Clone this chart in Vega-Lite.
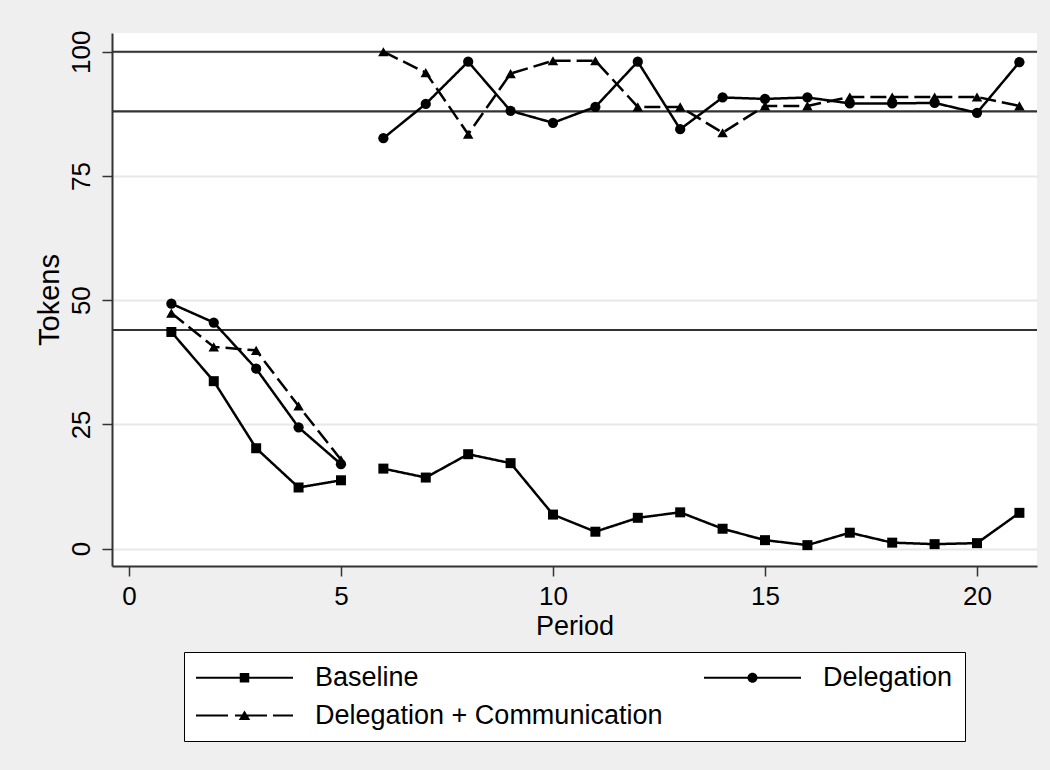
{
  "$schema": "https://vega.github.io/schema/vega-lite/v6.json",
  "width": 925,
  "height": 533,
  "autosize": {"type": "none"},
  "padding": {"left": 112, "top": 33, "right": 13, "bottom": 204},
  "background": "#efefef",
  "config": {
    "view": {"fill": "white", "stroke": null},
    "font": "Liberation Sans",
    "axis": {
      "domainColor": "#333333",
      "domainWidth": 2,
      "tickColor": "#333333",
      "tickWidth": 1.5,
      "tickSize": 10,
      "labelFont": "Liberation Sans",
      "labelFontSize": 26,
      "labelColor": "black",
      "titleFont": "Liberation Sans",
      "titleFontSize": 27,
      "titleFontWeight": "normal",
      "titleColor": "black"
    }
  },
  "datasets": {
    "series": [
      {"series": "Baseline", "phase": 1, "period": 1, "tokens": 43.6},
      {"series": "Baseline", "phase": 1, "period": 2, "tokens": 33.7},
      {"series": "Baseline", "phase": 1, "period": 3, "tokens": 20.2},
      {"series": "Baseline", "phase": 1, "period": 4, "tokens": 12.3},
      {"series": "Baseline", "phase": 1, "period": 5, "tokens": 13.75},
      {"series": "Baseline", "phase": 2, "period": 6, "tokens": 16.1},
      {"series": "Baseline", "phase": 2, "period": 7, "tokens": 14.3},
      {"series": "Baseline", "phase": 2, "period": 8, "tokens": 19.0},
      {"series": "Baseline", "phase": 2, "period": 9, "tokens": 17.2},
      {"series": "Baseline", "phase": 2, "period": 10, "tokens": 6.85},
      {"series": "Baseline", "phase": 2, "period": 11, "tokens": 3.4},
      {"series": "Baseline", "phase": 2, "period": 12, "tokens": 6.2},
      {"series": "Baseline", "phase": 2, "period": 13, "tokens": 7.3},
      {"series": "Baseline", "phase": 2, "period": 14, "tokens": 4.0},
      {"series": "Baseline", "phase": 2, "period": 15, "tokens": 1.7},
      {"series": "Baseline", "phase": 2, "period": 16, "tokens": 0.7},
      {"series": "Baseline", "phase": 2, "period": 17, "tokens": 3.2},
      {"series": "Baseline", "phase": 2, "period": 18, "tokens": 1.2},
      {"series": "Baseline", "phase": 2, "period": 19, "tokens": 0.9},
      {"series": "Baseline", "phase": 2, "period": 20, "tokens": 1.1},
      {"series": "Baseline", "phase": 2, "period": 21, "tokens": 7.2},
      {"series": "Delegation", "phase": 1, "period": 1, "tokens": 49.3},
      {"series": "Delegation", "phase": 1, "period": 2, "tokens": 45.5},
      {"series": "Delegation", "phase": 1, "period": 3, "tokens": 36.2},
      {"series": "Delegation", "phase": 1, "period": 4, "tokens": 24.4},
      {"series": "Delegation", "phase": 1, "period": 5, "tokens": 17.0},
      {"series": "Delegation", "phase": 2, "period": 6, "tokens": 82.6},
      {"series": "Delegation", "phase": 2, "period": 7, "tokens": 89.5},
      {"series": "Delegation", "phase": 2, "period": 8, "tokens": 98.0},
      {"series": "Delegation", "phase": 2, "period": 9, "tokens": 88.1},
      {"series": "Delegation", "phase": 2, "period": 10, "tokens": 85.7},
      {"series": "Delegation", "phase": 2, "period": 11, "tokens": 88.9},
      {"series": "Delegation", "phase": 2, "period": 12, "tokens": 98.0},
      {"series": "Delegation", "phase": 2, "period": 13, "tokens": 84.4},
      {"series": "Delegation", "phase": 2, "period": 14, "tokens": 90.8},
      {"series": "Delegation", "phase": 2, "period": 15, "tokens": 90.5},
      {"series": "Delegation", "phase": 2, "period": 16, "tokens": 90.8},
      {"series": "Delegation", "phase": 2, "period": 17, "tokens": 89.6},
      {"series": "Delegation", "phase": 2, "period": 18, "tokens": 89.6},
      {"series": "Delegation", "phase": 2, "period": 19, "tokens": 89.7},
      {"series": "Delegation", "phase": 2, "period": 20, "tokens": 87.7},
      {"series": "Delegation", "phase": 2, "period": 21, "tokens": 97.9},
      {"series": "Delegation + Communication", "phase": 1, "period": 1, "tokens": 47.4},
      {"series": "Delegation + Communication", "phase": 1, "period": 2, "tokens": 40.6},
      {"series": "Delegation + Communication", "phase": 1, "period": 3, "tokens": 39.9},
      {"series": "Delegation + Communication", "phase": 1, "period": 4, "tokens": 28.7},
      {"series": "Delegation + Communication", "phase": 1, "period": 5, "tokens": 17.9},
      {"series": "Delegation + Communication", "phase": 2, "period": 6, "tokens": 100.0},
      {"series": "Delegation + Communication", "phase": 2, "period": 7, "tokens": 95.8},
      {"series": "Delegation + Communication", "phase": 2, "period": 8, "tokens": 83.4},
      {"series": "Delegation + Communication", "phase": 2, "period": 9, "tokens": 95.6},
      {"series": "Delegation + Communication", "phase": 2, "period": 10, "tokens": 98.2},
      {"series": "Delegation + Communication", "phase": 2, "period": 11, "tokens": 98.2},
      {"series": "Delegation + Communication", "phase": 2, "period": 12, "tokens": 88.9},
      {"series": "Delegation + Communication", "phase": 2, "period": 13, "tokens": 88.9},
      {"series": "Delegation + Communication", "phase": 2, "period": 14, "tokens": 83.7},
      {"series": "Delegation + Communication", "phase": 2, "period": 15, "tokens": 89.1},
      {"series": "Delegation + Communication", "phase": 2, "period": 16, "tokens": 89.1},
      {"series": "Delegation + Communication", "phase": 2, "period": 17, "tokens": 90.9},
      {"series": "Delegation + Communication", "phase": 2, "period": 18, "tokens": 90.9},
      {"series": "Delegation + Communication", "phase": 2, "period": 19, "tokens": 90.9},
      {"series": "Delegation + Communication", "phase": 2, "period": 20, "tokens": 90.9},
      {"series": "Delegation + Communication", "phase": 2, "period": 21, "tokens": 89.1}
    ],
    "refs": [{"ref": 100}, {"ref": 88}, {"ref": 44}]
  },
  "resolve": {"scale": {"shape": "independent"}},
  "layer": [
    {
      "data": {"name": "refs"},
      "mark": {"type": "rule", "color": "#333333", "strokeWidth": 2.2},
      "encoding": {
        "y": {
          "field": "ref",
          "type": "quantitative",
          "scale": {"domain": [-3.5, 103.77], "nice": false, "zero": false},
          "axis": {
            "values": [0, 25, 50, 75, 100],
            "grid": true,
            "gridColor": "#e8e8e8",
            "gridWidth": 2,
            "labelAngle": -90,
            "labelAlign": "center",
            "labelBaseline": "bottom",
            "labelPadding": 8,
            "title": "Tokens",
            "titleFontSize": 29,
            "titlePadding": 4
          }
        }
      }
    },
    {
      "data": {"name": "series"},
      "mark": {"type": "line", "color": "black", "strokeWidth": 2.5},
      "encoding": {
        "x": {
          "field": "period",
          "type": "quantitative",
          "scale": {"domain": [-0.4, 21.415], "nice": false, "zero": false},
          "axis": {
            "values": [0, 5, 10, 15, 20],
            "grid": false,
            "labelPadding": 7,
            "title": "Period",
            "titlePadding": 4
          }
        },
        "y": {"field": "tokens", "type": "quantitative"},
        "detail": {"field": "phase", "type": "nominal"},
        "strokeDash": {
          "field": "series",
          "type": "nominal",
          "scale": {
            "domain": ["Baseline", "Delegation", "Delegation + Communication"],
            "range": [[1, 0], [1, 0], [16, 6]]
          },
          "legend": null
        }
      }
    },
    {
      "data": {"name": "series"},
      "mark": {"type": "point", "filled": true, "color": "black", "opacity": 1},
      "encoding": {
        "x": {"field": "period", "type": "quantitative"},
        "y": {"field": "tokens", "type": "quantitative"},
        "shape": {
          "field": "series",
          "type": "nominal",
          "scale": {
            "domain": ["Baseline", "Delegation", "Delegation + Communication"],
            "range": ["square", "circle", "triangle-up"]
          },
          "legend": null
        },
        "size": {
          "field": "series",
          "type": "nominal",
          "scale": {
            "domain": ["Baseline", "Delegation", "Delegation + Communication"],
            "range": [100, 110, 135]
          },
          "legend": null
        }
      }
    },
    {
      "data": {"name": "series"},
      "transform": [{"filter": "datum.period < 0"}],
      "mark": {"type": "point", "filled": true, "color": "black", "opacity": 1},
      "encoding": {
        "x": {"field": "period", "type": "quantitative"},
        "y": {"field": "tokens", "type": "quantitative"},
        "shape": {
          "field": "series",
          "type": "nominal",
          "scale": {
            "domain": ["Baseline", "Delegation", "Delegation + Communication"],
            "range": [
              "M-9.7,-0.22H9.7V0.22H-9.7Z M-0.95,-0.95H0.95V0.95H-0.95Z",
              "M-9.7,-0.22H9.7V0.22H-9.7Z M-1,0A1,1 0 1,1 1,0A1,1 0 1,1 -1,0Z",
              "M-9.7,-0.22H-3.3V0.22H-9.7Z M-1.9,-0.22H4.5V0.22H-1.9Z M5.7,-0.22H9.7V0.22H5.7Z M0,-1L1.15,0.9H-1.15Z"
            ]
          },
          "legend": {
            "orient": "none",
            "legendX": 72,
            "legendY": 619,
            "direction": "horizontal",
            "columns": 2,
            "title": null,
            "symbolSize": 100,
            "symbolOffset": 35,
            "labelOffset": 57,
            "labelFontSize": 27,
            "labelFont": "Liberation Sans",
            "labelColor": "black",
            "labelLimit": 600,
            "columnPadding": 41,
            "rowPadding": 10,
            "padding": 12,
            "strokeColor": "black",
            "fillColor": "white",
            "symbolFillColor": "black",
            "symbolStrokeColor": "black",
            "symbolStrokeWidth": 0,
            "symbolOpacity": 1
          }
        }
      }
    }
  ]
}
